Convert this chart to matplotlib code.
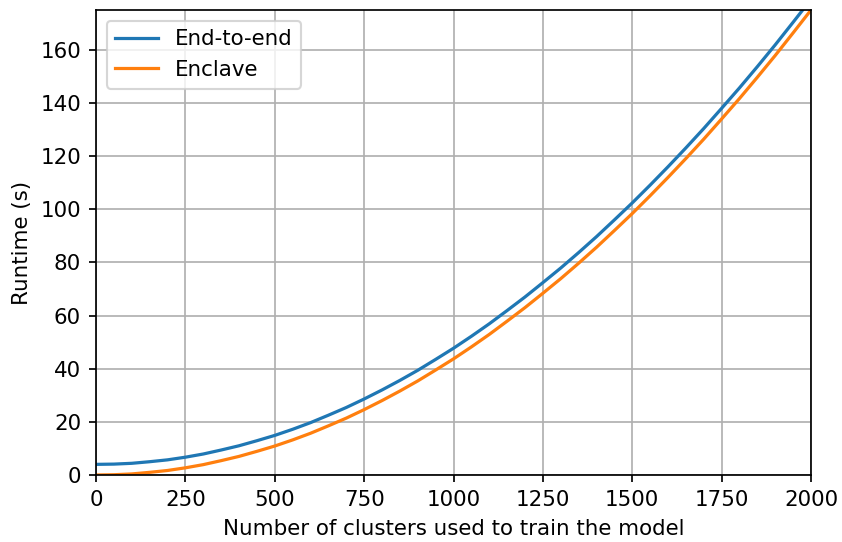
import matplotlib
matplotlib.use("Agg")
import matplotlib.pyplot as plt

# number of clusters
clusters = [0, 50, 100, 150, 200, 250, 300, 350, 400, 450, 500,
            550, 600, 650, 700, 750, 800, 850, 900, 950, 1000,
            1050, 1100, 1150, 1200, 1250, 1300, 1350, 1400, 1450, 1500,
            1550, 1600, 1650, 1700, 1750, 1800, 1850, 1900, 1950, 2000]

# runtime (s)
end_to_end = [4.0, 4.1, 4.4, 5.0, 5.7, 6.7, 7.9, 9.4, 11.0, 12.9, 14.9,
              17.2, 19.7, 22.5, 25.4, 28.6, 32.0, 35.6, 39.4, 43.5, 47.7,
              52.2, 56.9, 61.9, 67.0, 72.4, 77.9, 83.7, 89.7, 96.0, 102.4,
              109.1, 116.0, 123.1, 130.4, 138.0, 145.7, 153.7, 161.9, 170.4, 179.0]
enclave = [0.0, 0.1, 0.4, 1.0, 1.7, 2.7, 3.9, 5.4, 7.0, 8.9, 10.9,
           13.2, 15.7, 18.5, 21.4, 24.6, 28.0, 31.6, 35.4, 39.5, 43.7,
           48.2, 52.9, 57.9, 63.0, 68.4, 73.9, 79.7, 85.7, 92.0, 98.4,
           105.1, 112.0, 119.1, 126.4, 134.0, 141.7, 149.7, 157.9, 166.4, 175.0]

dpi = 154
fig = plt.figure(figsize=(842 / dpi, 542 / dpi), dpi=dpi)
ax = fig.add_axes([96 / 842, 67 / 542, 715 / 842, 465 / 542])

ax.plot(clusters, end_to_end, lw=1.5, label="End-to-end")
ax.plot(clusters, enclave, lw=1.5, label="Enclave")

ax.set_xlim(0, 2000)
ax.set_ylim(0, 175)
ax.set_xticks(range(0, 2001, 250))
ax.set_yticks(range(0, 161, 20))
ax.set_xlabel("Number of clusters used to train the model")
ax.set_ylabel("Runtime (s)")
ax.grid(True)
ax.legend(loc="upper left")

fig.savefig("out.png", dpi=dpi)
